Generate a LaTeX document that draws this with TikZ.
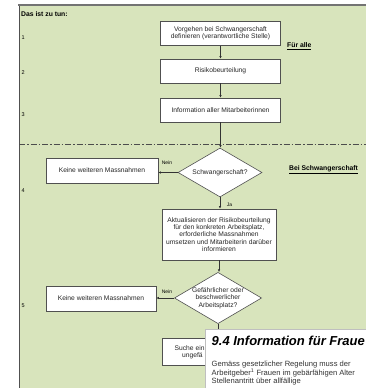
\documentclass[tikz,border=0pt]{standalone}
\usepackage{fontspec}
\setmainfont{Liberation Sans}
\usetikzlibrary{shapes.geometric,arrows.meta}
\definecolor{panelgreen}{HTML}{D8E4BC}
\definecolor{edgegray}{HTML}{505050}
\tikzset{
  boxtext/.style={font=\fontsize{6.7}{7.3}\selectfont, align=center, text=black!85},
  stepbox/.style={boxtext, draw=edgegray, line width=0.6pt, fill=white, inner sep=1pt},
  decision/.style={boxtext, diamond, draw=edgegray, line width=0.6pt, fill=white, inner sep=0pt, aspect=1.7},
  flow/.style={draw=black!80, line width=0.6pt, -{Latex[length=2.6pt,width=2.4pt]}},
  numlabel/.style={font=\fontsize{5.5}{6}\selectfont, anchor=west, inner sep=0pt},
  sectlabel/.style={font=\bfseries\fontsize{6.8}{7}\selectfont, anchor=west, inner sep=0pt},
  tinylabel/.style={font=\fontsize{5}{6}\selectfont, inner sep=0pt},
}
\begin{document}
\begin{tikzpicture}[x=1pt,y=-1pt]
\useasboundingbox (0,0) rectangle (366,388);
% panel
\fill[panelgreen] (19,5) rectangle (372,392);
\draw[edgegray, line width=0.7pt] (19,5) -- (19,392);
\draw[black!55, line width=1.6pt] (18,5) -- (372,5);
% dashed separator
\draw[black!70, line width=0.6pt, dash pattern=on 6pt off 2pt on 1.5pt off 2pt] (19,144) -- (372,144);

% header and row numbers
\node[sectlabel] (hdr) at (21,14) {Das ist zu tun:};
\node[numlabel] (n1) at (21.5,38) {1};
\node[numlabel] (n2) at (21.5,73) {2};
\node[numlabel] (n3) at (21.5,115) {3};
\node[numlabel] (n4) at (21.5,191) {4};
\node[numlabel] (n5) at (21.5,306) {5};

% side labels
\node[sectlabel] (fa) at (287,46) {\underline{Für alle}};
\node[sectlabel] (bs) at (289,170) {\underline{Bei Schwangerschaft}};

% boxes
\node[stepbox, minimum width=120pt, minimum height=24pt] (b1) at (220.5,33.5)
  {Vorgehen bei Schwangerschaft\\definieren (verantwortliche Stelle)};
\node[stepbox, minimum width=120pt, minimum height=24pt] (b2) at (220.5,71) {Risikobeurteilung};
\node[stepbox, minimum width=120pt, minimum height=24pt] (b3) at (220.5,110) {Information aller Mitarbeiterinnen};
\node[decision, minimum width=84pt, minimum height=49pt] (d1) at (220,172.5) {Schwangerschaft?};
\node[stepbox, minimum width=112pt, minimum height=25pt] (k1) at (102,170.5) {Keine weiteren Massnahmen};
\node[stepbox, minimum width=114pt, minimum height=51pt] (b4) at (219,234.5)
  {Aktualisieren der Risikobeurteilung\\für den konkreten Arbeitsplatz,\\erforderliche Massnahmen\\umsetzen und Mitarbeiterin darüber\\informieren};
\node[decision, minimum width=84pt, minimum height=50pt] (d2) at (218,298)
  {Gefährlicher oder\\beschwerlicher\\Arbeitsplatz?};
\node[stepbox, minimum width=110pt, minimum height=25pt] (k2) at (101,298.5) {Keine weiteren Massnahmen};
\node[stepbox, minimum width=114pt, minimum height=27pt] (b6) at (219,351.5) {};
\node[boxtext, anchor=base west, inner sep=0pt] (b6a) at (174.5,350) {Suche ein};
\node[boxtext, anchor=base west, inner sep=0pt] (b6b) at (182,357.3) {ungefä};

% connectors
\draw[flow] (b1) -- (b2);
\draw[flow] (b2) -- (b3);
\draw[flow] (b3.south) -- (b3.south |- d1.north);
\draw[flow] (d1.west) -- (k1.east |- d1.west);
\draw[flow] (d1.south) -- (d1.south |- b4.north);
\draw[flow] (b4.south) -- (b4.south |- d2.north);
\draw[flow] (d2.west) -- (k2.east |- d2.west);
\draw[flow] (d2.south) -- (d2.south |- b6.north);
\node[tinylabel] (nein1) at (167,163) {Nein};
\node[tinylabel] (ja1) at (229.5,205) {Ja};
\node[tinylabel] (nein2) at (167,292) {Nein};

% overlay document excerpt
\filldraw[fill=white, draw=black!25, line width=0.4pt] (205,329) rectangle (372,392);
\node[anchor=base west, inner sep=0pt, font=\bfseries\itshape\fontsize{13}{14}\selectfont] (ttl) at (211.5,345) {9.4 Information für Fraue};
\node[anchor=north west, inner sep=0pt, align=left, text=black!80, font=\fontsize{7.6}{7.5}\selectfont] (body) at (211.5,361)
  {Gemäss gesetzlicher Regelung muss der\\Arbeitgeber\textsuperscript{1} Frauen im gebärfähigen Alter\\Stellenantritt über allfällige};
\end{tikzpicture}
\end{document}
